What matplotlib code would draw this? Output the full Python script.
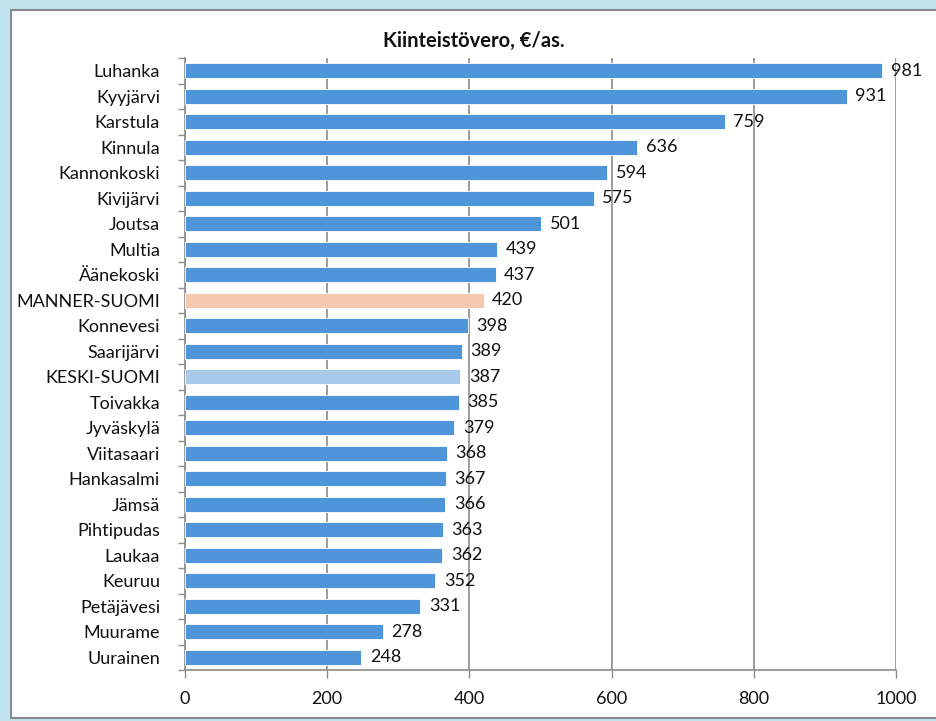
import matplotlib
matplotlib.use("Agg")
import matplotlib.pyplot as plt
from matplotlib.patches import Rectangle

categories = ["Luhanka", "Kyyjärvi", "Karstula", "Kinnula", "Kannonkoski", "Kivijärvi",
              "Joutsa", "Multia", "Äänekoski", "MANNER-SUOMI", "Konnevesi", "Saarijärvi",
              "KESKI-SUOMI", "Toivakka", "Jyväskylä", "Viitasaari", "Hankasalmi", "Jämsä",
              "Pihtipudas", "Laukaa", "Keuruu", "Petäjävesi", "Muurame", "Uurainen"]
values = [981, 931, 759, 636, 594, 575, 501, 439, 437, 420, 398, 389, 387, 385, 379,
          368, 367, 366, 363, 362, 352, 331, 278, 248]
x_ticks = [0, 200, 400, 600, 800, 1000]
title = "Kiinteistövero, €/as."

plt.rcParams['font.family'] = ['Lato', 'DejaVu Sans']

W, H = 936, 721
fig = plt.figure(figsize=(W / 100, H / 100), dpi=100)
fig.patch.set_facecolor('#c2e4ef')

bg = fig.add_axes([0, 0, 1, 1], zorder=-5)
bg.set_xlim(0, W)
bg.set_ylim(H, 0)
bg.axis('off')
bg.add_patch(Rectangle((11, 10), W, 708, facecolor='white', edgecolor='#8c8c8c', linewidth=1.5))

ax = fig.add_axes([185 / W, 1 - 670 / H, (896 - 185) / W, (670 - 58) / H], zorder=1)
ax.set_facecolor('none')

colors = []
for c in categories:
    if c == "MANNER-SUOMI":
        colors.append('#f6c8ad')
    elif c == "KESKI-SUOMI":
        colors.append('#a8c9ea')
    else:
        colors.append('#4f95d9')

FS = 13
y = list(range(len(categories)))
ax.barh(y, values, height=0.6, color=colors, edgecolor='white', linewidth=0.6, zorder=3)
for yi, v in zip(y, values):
    ax.text(v + 12, yi, str(v), va='center', ha='left', fontsize=FS, color='#111111', zorder=4)

ax.set_ylim(len(categories) - 0.5, -0.5)
ax.set_xlim(0, 1000)
ax.set_yticks(y)
ax.set_yticklabels(categories, fontsize=FS, color='#111111')
ax.set_yticks([i - 0.5 for i in range(len(categories) + 1)], minor=True)
ax.tick_params(axis='y', which='major', length=0, pad=18)
ax.tick_params(axis='y', which='minor', length=5, color='#8c8c8c', width=1)
ax.set_xticks(x_ticks)
ax.set_xticklabels([str(t) for t in x_ticks], fontsize=FS, color='#111111')
ax.tick_params(axis='x', length=6, color='#8c8c8c', width=1, pad=9)
ax.xaxis.grid(True, color='#8c8c8c', linewidth=1.2, zorder=1)
ax.set_axisbelow(True)
for s in ['top', 'right']:
    ax.spines[s].set_visible(False)
for s in ['left', 'bottom']:
    ax.spines[s].set_color('#8c8c8c')
    ax.spines[s].set_linewidth(1.2)

fig.text(474 / W, 1 - 41 / H, title, ha='center', va='center',
         fontsize=14.5, fontweight='bold', color='#111111')

fig.savefig('out.png', dpi=100)
